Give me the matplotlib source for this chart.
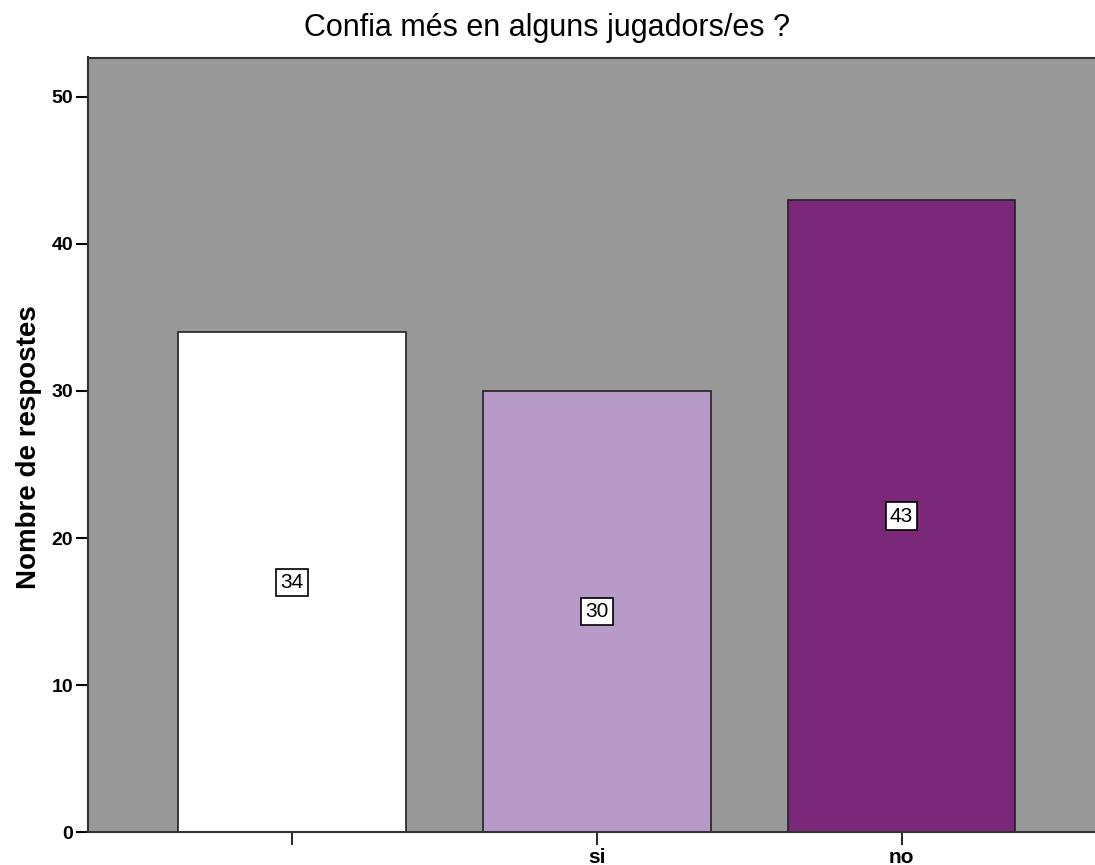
import matplotlib.pyplot as plt
import numpy as np

categories = ["", "si", "no"]
counts = [34, 30, 43]
colors = ["#ffffff", "#b79ac8", "#7b287b"]

fig = plt.figure(figsize=(10.95, 8.65), dpi=100)
ax = fig.add_axes([88 / 1095, 32.7 / 865, (1105.5 - 88) / 1095, (832.3 - 57.5) / 865])
ax.set_facecolor("#999999")

x = np.arange(len(categories))
ax.bar(x, counts, width=0.747, color=colors, edgecolor="#222222", linewidth=1.2)

# value boxes in the middle of each bar
for xi, c in zip(x, counts):
    ax.text(xi, c / 2, str(c), ha="center", va="center", fontsize=15,
            family="Liberation Sans",
            bbox=dict(boxstyle="square,pad=0.2", facecolor="white", edgecolor="black", linewidth=1.2))

ax.set_xlim(-0.669, 2.669)
ax.set_ylim(0, 52.67)
ax.set_yticks([0, 10, 20, 30, 40, 50])
ax.set_xticks(x)
ax.set_xticklabels(categories, fontweight="bold", fontsize=15, family="Liberation Sans")
for lbl in ax.get_yticklabels():
    lbl.set_fontweight("bold")
    lbl.set_fontsize(14)
    lbl.set_family("Liberation Sans")
ax.tick_params(axis="y", length=8.6, width=1.5, pad=2)
ax.tick_params(axis="x", length=9, width=1.2, pad=2)
for s in ax.spines.values():
    s.set_linewidth(1.5)
    s.set_color("#333333")

fig.text(29 / 1095, 1 - 447 / 865, "Nombre de respostes", rotation=90, ha="center", va="center",
         fontsize=20, fontweight="bold", family="Liberation Sans")
fig.text(547 / 1095, 1 - 28 / 865, "Confia més en alguns jugadors/es ?", ha="center", va="center",
         fontsize=22, family="Liberation Sans")

fig.savefig("out.png", dpi=100)
